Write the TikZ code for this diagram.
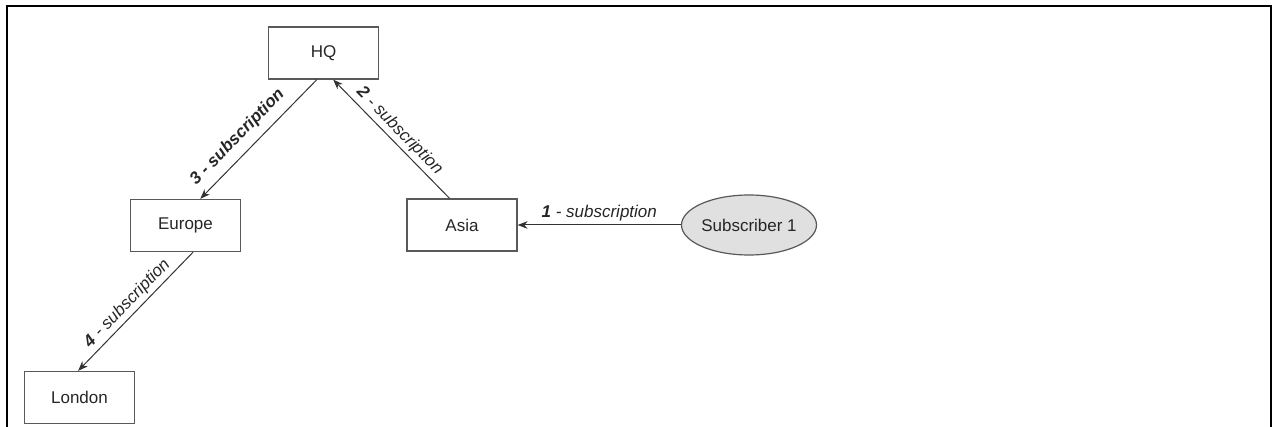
\documentclass[tikz,border=0pt]{standalone}
\usepackage{fontspec}
\setmainfont{Liberation Sans}
\usetikzlibrary{arrows.meta,shapes.geometric}
\begin{document}
\begin{tikzpicture}[x=1pt, y=-1pt, >={Stealth[length=10pt,width=7.5pt]},
    site/.style={draw=black!65, line width=1.2pt, minimum width=110pt, minimum height=52pt,
      inner sep=0pt, text=black!85, font=\fontsize{17}{20}\selectfont},
    client/.style={ellipse, draw=black!65, fill=black!12, line width=1.2pt, minimum width=128pt,
      minimum height=60pt, inner sep=0pt, text=black!85, font=\fontsize{17}{20}\selectfont},
    feed/.style={->, draw=black!80, line width=1pt},
    tag/.style={above, sloped, inner sep=3pt, text=black!85, font=\fontsize{17}{20}\selectfont\itshape}]
  \useasboundingbox (0,0) rectangle (1274,427);
  % outer frame, open at the bottom
  \draw[line width=2.5pt] (7,427) -- (7,6) -- (1271,6) -- (1271,427);
  % sites
  \node[site] (hq) at (323.5,53) {HQ};
  \node[site] (europe) at (185.5,225.5) {Europe};
  \node[site] (asia) at (462,225) {Asia};
  \node[site] (london) at (79.5,397.5) {London};
  \node[client] (sub) at (749,225) {Subscriber 1};
  % subscriptions
  \draw[feed] (sub.west) -- node[tag] {\textbf{1} - subscription} (asia.east);
  \draw[feed] (asia.115) -- node[tag] {\textbf{2} - subscription} (hq.-70);
  \draw[feed] (hq.-104) -- node[tag, pos=0.58, inner sep=8pt] {\bfseries 3 - subscription} (europe.61);
  \draw[feed] (europe.-74) -- node[tag] {\textbf{4} - subscription} (london.93);
\end{tikzpicture}
\end{document}
